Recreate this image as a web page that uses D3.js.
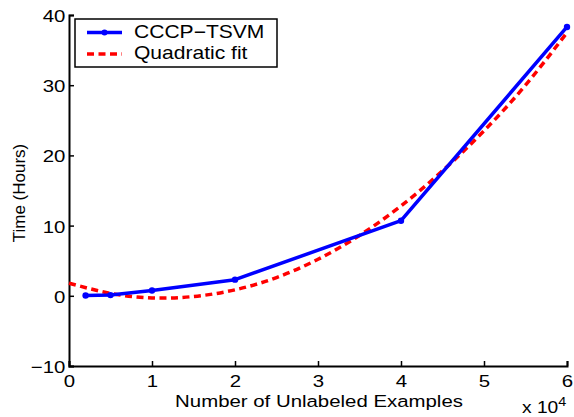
<!DOCTYPE html>
<html><head><meta charset="utf-8">
<script src="https://cdn.jsdelivr.net/npm/d3@7"></script>
<style>body{margin:0;background:#fff}svg{display:block}text{font-family:"Liberation Sans",Arial,sans-serif;fill:#000}</style>
</head><body>
<script>
const xTicks = [0,1,2,3,4,5,6];
const yTicks = [-10,0,10,20,30,40];
const tsvmX = [0.2,0.5,1,2,4,6];
const tsvmY = [0.05,0.1,0.75,2.3,10.7,38.3];
const fitX = [0,0.5,1,1.5,2,2.5,3,3.5,4,4.5,5,5.5,6];
const fitY = [1.8,0.35,-0.3,-0.1,0.85,2.6,5.2,8.6,12.8,17.8,23.5,30.0,37.5];
const seriesNames = ["CCCP\u2212TSVM","Quadratic fit"];

const W=574,H=417, SX=1.2;
const svg=d3.select("body").append("svg").attr("width",W).attr("height",H);
const x=d3.scaleLinear().domain([0,6]).range([69,567]);
const y=d3.scaleLinear().domain([-10,40]).range([366,15]);

// axes
const xa=svg.append("g").attr("transform","translate(0,366)")
  .call(d3.axisBottom(x).tickValues(xTicks).tickSize(-5).tickPadding(7).tickFormat(d3.format("d")));
const ya=svg.append("g").attr("transform","translate(69,0)")
  .call(d3.axisLeft(y).tickValues(yTicks).tickSize(-5).tickPadding(3).tickFormat(d=>d<0?"\u2212"+Math.abs(d):d));
[xa,ya].forEach(g=>{
  g.select(".domain").attr("stroke","#000").attr("stroke-width",2);
  g.selectAll(".tick line").attr("stroke","#000").attr("stroke-width",1.5);
  g.selectAll("text").attr("font-size",17).attr("font-family","Liberation Sans, Arial, sans-serif")
    .attr("transform",`scale(${SX},1)`);
});
xa.selectAll(".tick text").attr("dy","0.8em");
ya.selectAll(".tick text").attr("dy","0.38em");

// fit
const fit=fitX.map((v,i)=>[v,fitY[i]]);
svg.append("path").datum(fit).attr("fill","none").attr("stroke","#ff0000")
  .attr("stroke-width",3.5).attr("stroke-dasharray","7,4.5")
  .attr("d",d3.line().x(d=>x(d[0])).y(d=>y(d[1])).curve(d3.curveNatural));

// tsvm
const ts=tsvmX.map((v,i)=>[v,tsvmY[i]]);
svg.append("path").datum(ts).attr("fill","none").attr("stroke","#0000ff")
  .attr("stroke-width",3.5).attr("stroke-linejoin","round")
  .attr("d",d3.line().x(d=>x(d[0])).y(d=>y(d[1])));
svg.selectAll("circle.pt").data(ts).join("circle").attr("class","pt")
  .attr("cx",d=>x(d[0])).attr("cy",d=>y(d[1])).attr("r",3.2).attr("fill","#0000ff");

// labels
svg.append("text").attr("transform",`translate(319,407) scale(${SX},1)`).attr("text-anchor","middle").attr("font-size",17)
  .text("Number of Unlabeled Examples");
svg.append("text").attr("transform","translate(25,193) rotate(-90)").attr("text-anchor","middle").attr("font-size",17)
  .text("Time (Hours)");
const ex=svg.append("text").attr("transform",`translate(522,413) scale(${SX},1)`).attr("font-size",16);
ex.append("tspan").text("x 10");
ex.append("tspan").attr("dy",-7).attr("font-size",12).text("4");

// legend
const lg=svg.append("g");
lg.append("rect").attr("x",75).attr("y",19).attr("width",202).attr("height",48)
  .attr("fill","#fff").attr("stroke","#000").attr("stroke-width",1.5);
lg.append("line").attr("x1",87).attr("x2",122).attr("y1",32.5).attr("y2",32.5)
  .attr("stroke","#0000ff").attr("stroke-width",3.5);
lg.append("circle").attr("cx",104.5).attr("cy",32.5).attr("r",3).attr("fill","#0000ff");
lg.append("line").attr("x1",87).attr("x2",122).attr("y1",54).attr("y2",54)
  .attr("stroke","#ff0000").attr("stroke-width",3.5).attr("stroke-dasharray","7,4.5");
lg.selectAll("text.lt").data(seriesNames).join("text").attr("class","lt")
  .attr("transform",(d,i)=>`translate(134,${38+i*21}) scale(1.17,1)`).attr("font-size",18).text(d=>d);
</script>
</body></html>
